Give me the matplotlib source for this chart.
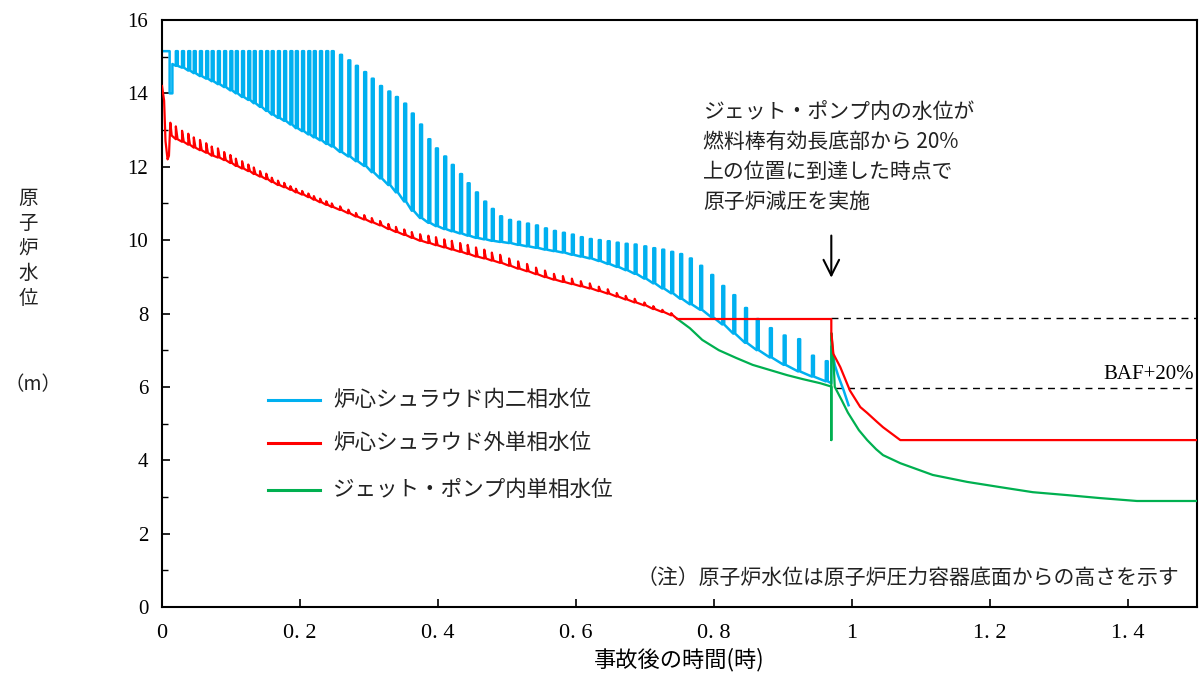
import matplotlib
matplotlib.use('Agg')
import matplotlib.pyplot as plt

# --- data (time in hours, level in m) ---
blue_start_t = [0.0, 0.011, 0.011, 0.015, 0.015]
blue_start_y = [15.15, 15.15, 14.0, 14.0, 14.8]

blue_t = [0.020, 0.029, 0.038, 0.046, 0.055, 0.064, 0.072, 0.081, 0.090, 0.099,
          0.107, 0.116, 0.125, 0.133, 0.142, 0.151, 0.159, 0.168, 0.177, 0.186,
          0.194, 0.203, 0.212, 0.220, 0.229, 0.238, 0.246,
          0.258, 0.270, 0.281, 0.293, 0.304, 0.316, 0.328, 0.339, 0.351, 0.362,
          0.374, 0.386, 0.397, 0.409, 0.420, 0.432, 0.443, 0.455, 0.467, 0.478,
          0.490,
          0.503, 0.516, 0.529, 0.542, 0.555, 0.568, 0.581, 0.594, 0.607, 0.620,
          0.633, 0.646, 0.659, 0.672, 0.685, 0.699, 0.712, 0.725, 0.738, 0.751,
          0.765, 0.780, 0.796, 0.812, 0.828, 0.845, 0.862, 0.881, 0.901, 0.922,
          0.942, 0.962]
blue_peak = [15.15, 15.15, 15.15, 15.15, 15.15, 15.15, 15.15, 15.15, 15.15, 15.15,
             15.15, 15.15, 15.15, 15.15, 15.15, 15.15, 15.15, 15.15, 15.15, 15.15,
             15.15, 15.15, 15.15, 15.15, 15.15, 15.15, 15.15,
             15.05, 14.9, 14.75, 14.58, 14.4, 14.2, 14.05, 13.9, 13.72, 13.45,
             13.15, 12.75, 12.5, 12.28, 12.05, 11.8, 11.55, 11.3, 11.05, 10.85,
             10.65,
             10.55, 10.5, 10.45, 10.4, 10.32, 10.25, 10.2, 10.15, 10.08, 10.03,
             10.0, 9.97, 9.93, 9.9, 9.88, 9.83, 9.78, 9.74, 9.68, 9.62,
             9.5, 9.3, 9.05, 8.75, 8.5, 8.15, 7.85, 7.6, 7.4, 7.3,
             6.85, 6.7]
blue_trough = [14.75, 14.7, 14.62, 14.55, 14.47, 14.4, 14.33, 14.25, 14.17, 14.08,
               14.0, 13.9, 13.82, 13.73, 13.63, 13.52, 13.42, 13.33, 13.25, 13.15,
               13.05, 12.97, 12.88, 12.8, 12.72, 12.62, 12.55,
               12.4, 12.28, 12.15, 12.02, 11.85, 11.68, 11.5, 11.3, 11.05, 10.8,
               10.6, 10.47, 10.38, 10.3, 10.24, 10.18, 10.12, 10.06, 10.02, 9.98,
               9.95,
               9.92, 9.87, 9.83, 9.79, 9.74, 9.7, 9.66, 9.6, 9.55, 9.5,
               9.43, 9.35, 9.27, 9.18, 9.08, 8.95, 8.82, 8.68, 8.55, 8.4,
               8.25, 8.1, 7.9, 7.7, 7.45, 7.2, 7.0, 6.8, 6.6, 6.42,
               6.28, 6.15]
blue_end_t = [0.970, 0.970, 0.975, 0.980, 0.988, 0.995]
blue_end_y = [6.1, 7.1, 6.6, 6.3, 5.9, 5.5]

red_start_t = [0.0, 0.003, 0.005, 0.008, 0.010, 0.012, 0.014]
red_start_y = [14.2, 13.8, 12.7, 12.2, 12.3, 13.2, 12.85]
red_lo = [12.75, 12.68, 12.6, 12.52, 12.45, 12.38, 12.3, 12.25, 12.18, 12.1,
          12.02, 11.95, 11.88, 11.8, 11.73, 11.66, 11.58, 11.5, 11.44, 11.37,
          11.3, 11.24, 11.17, 11.1, 11.03, 10.96, 10.9,
          10.82, 10.73, 10.64, 10.56, 10.48, 10.4, 10.3, 10.22, 10.14, 10.06,
          9.98, 9.92, 9.86, 9.8, 9.74, 9.68, 9.62, 9.55, 9.5, 9.44, 9.38,
          9.3, 9.22, 9.15, 9.07, 8.99, 8.92, 8.86, 8.8, 8.74, 8.68,
          8.61, 8.54, 8.46, 8.38, 8.3, 8.22, 8.12, 8.04, 7.95]
red_tooth = [0.35, 0.3, 0.3, 0.28, 0.28, 0.26, 0.25, 0.25, 0.22, 0.22,
             0.2, 0.2, 0.18, 0.18, 0.15, 0.15, 0.12, 0.12, 0.12, 0.1,
             0.1, 0.1, 0.1, 0.1, 0.1, 0.1, 0.1,
             0.1, 0.1, 0.1, 0.12, 0.12, 0.12, 0.14, 0.14, 0.15, 0.16,
             0.18, 0.2, 0.22, 0.22, 0.24, 0.24, 0.25, 0.25, 0.24, 0.22, 0.22,
             0.2, 0.2, 0.2, 0.18, 0.18, 0.16, 0.16, 0.15, 0.14, 0.14,
             0.12, 0.12, 0.1, 0.1, 0.1, 0.08, 0.08, 0.06, 0.06]
red_end_t = [0.747, 0.970, 0.970, 0.973, 0.983, 0.997, 1.012, 1.022, 1.036, 1.045, 1.070, 1.5]
red_end_y = [7.85, 7.85, 7.5, 6.9, 6.54, 5.9, 5.45, 5.29, 5.05, 4.9, 4.55, 4.55]

green_t = [0.747, 0.765, 0.783, 0.807, 0.832, 0.856, 0.881, 0.906, 0.929, 0.954,
           0.968, 0.970, 0.970, 0.970, 0.973, 0.975, 0.985, 0.994, 1.010, 1.022,
           1.035, 1.045, 1.070, 1.117, 1.167, 1.214, 1.262, 1.312, 1.359, 1.413, 1.5]
green_y = [7.85, 7.6, 7.28, 7.0, 6.79, 6.6, 6.46, 6.32, 6.21, 6.1,
           6.02, 6.0, 4.55, 7.47, 6.8, 6.0, 5.64, 5.3, 4.82, 4.55,
           4.3, 4.14, 3.92, 3.6, 3.41, 3.27, 3.13, 3.05, 2.97, 2.89, 2.89]

ref_levels = [7.88, 5.97]
x_ticks = [0, 0.2, 0.4, 0.6, 0.8, 1.0, 1.2, 1.4]
x_labels = ['0', '0. 2', '0. 4', '0. 6', '0. 8', '1', '1. 2', '1. 4']
series_names = ['炉心シュラウド内二相水位', '炉心シュラウド外単相水位', 'ジェット・ポンプ内単相水位']
colors = ['#00B0F0', '#FF0000', '#00B050']

JP = 'Noto Sans CJK JP'
SERIF = 'Liberation Serif'


def pulses(ts, tops, bases, w):
    # vertical rise, short plateau, vertical fall for each cycle
    xs, ys = [], []
    for t, top, base in zip(ts, tops, bases):
        xs += [t, t, t + w, t + w]
        ys += [base, top, top, base]
    return xs, ys


def teeth(ts, tops, bases, w):
    xs, ys = [], []
    for t, top, base in zip(ts, tops, bases):
        xs += [t, t, t + w]
        ys += [base, top, base]
    return xs, ys


fig = plt.figure(figsize=(12.03, 6.75), dpi=100)
ax = fig.add_axes([0.1347, 0.1007, 0.8603, 0.8697])

# blue: core shroud inside
bx, by = pulses(blue_t, blue_peak, blue_trough, 0.0028)
ax.plot(blue_start_t + bx + blue_end_t, blue_start_y + by + blue_end_y,
        color=colors[0], lw=1.8, zorder=2)

# green: jet pump
ax.plot(green_t, green_y, color=colors[2], lw=1.6, zorder=3)

# red: core shroud outside
red_hi = [lo + d for lo, d in zip(red_lo, red_tooth)]
rx, ry = teeth(blue_t[:len(red_lo)], red_hi, red_lo, 0.0025)
ax.plot(red_start_t + rx + red_end_t, red_start_y + ry + red_end_y,
        color=colors[1], lw=1.6, zorder=4)

# reference dashed lines
ax.plot([0.970, 1.5], [ref_levels[0]] * 2, color='black', lw=1, dashes=(5, 4), zorder=1)
ax.plot([0.975, 1.5], [ref_levels[1]] * 2, color='black', lw=1, dashes=(5, 4), zorder=1)
ax.text(1.495, 6.08, 'BAF+20%', fontsize=15, family=SERIF, ha='right', va='bottom',
        clip_on=False)

# arrow + annotation
ax.annotate('', xy=(0.970, 8.9), xytext=(0.970, 10.2),
            arrowprops=dict(arrowstyle='->', lw=1.5, color='black', mutation_scale=28))
note_lines = ['ジェット・ポンプ内の水位が', '燃料棒有効長底部から 20%',
              '上の位置に到達した時点で', '原子炉減圧を実施']
for i, s in enumerate(note_lines):
    ax.text(0.784, 13.49 - i * 0.818, s, fontsize=15, family=JP, color='#222222',
            ha='left', va='center')

ax.text(1.475, 0.8, '（注）原子炉水位は原子炉圧力容器底面からの高さを示す', fontsize=15,
        family=JP, color='#222222', ha='right', va='center')

# manual legend
leg_y = [0.3526, 0.2794, 0.1993]
for name, c, yy in zip(series_names, colors, leg_y):
    ax.plot([0.1024, 0.1527], [yy, yy], color=c, lw=2.2, transform=ax.transAxes)
    ax.text(0.1652, yy, name, fontsize=15.5, family=JP, color='#222222',
            ha='left', va='center', transform=ax.transAxes)

# axes
ax.set_xlim(0, 1.5)
ax.set_ylim(0, 16)
ax.set_xticks(x_ticks)
ax.set_xticklabels(x_labels, fontsize=16, family=SERIF)
ax.set_yticks(range(0, 17, 2))
ax.set_yticklabels([str(v) for v in range(0, 17, 2)], fontsize=15, family=SERIF)
ax.set_yticks(range(1, 16, 2), minor=True)
ax.tick_params(axis='both', which='major', direction='in', length=6, width=1.2)
ax.tick_params(axis='y', which='minor', direction='in', length=4, width=1.0)
ax.tick_params(axis='x', pad=12)
ax.tick_params(axis='y', pad=10)
for sp in ax.spines.values():
    sp.set_linewidth(1.5)

ax.set_xlabel('事故後の時間(時)', fontsize=16, family=JP, labelpad=4)

ylab = ['原', '子', '炉', '水', '位']
for i, ch in enumerate(ylab):
    fig.text(28 / 1203, 1 - (198 + i * 25) / 675, ch, fontsize=14, family=JP,
             color='#222222', ha='center', va='center')
fig.text(33 / 1203, 1 - 385 / 675, '（m）', fontsize=14, family=JP,
         color='#222222', ha='center', va='center')

fig.savefig('out.png', dpi=100)
